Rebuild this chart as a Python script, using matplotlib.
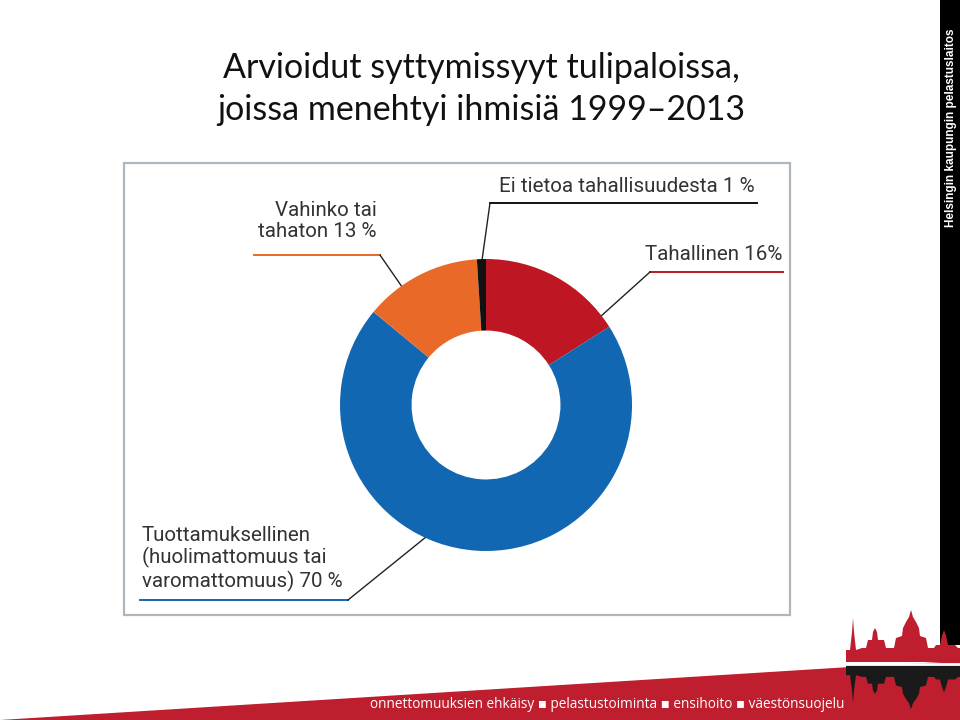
import numpy as np
import matplotlib
matplotlib.use("Agg")
import matplotlib.pyplot as plt
from matplotlib.patches import Rectangle, Polygon

# chart data (share of fires with deaths, %)
categories = ["Tahallinen", "Tuottamuksellinen", "Vahinko tai tahaton", "Ei tietoa tahallisuudesta"]
shares = [16, 70, 13, 1]
colors = ["#BE1622", "#1167B1", "#E96A28", "#111111"]
labels = ["Tahallinen 16%",
          "Tuottamuksellinen\n(huolimattomuus tai\nvaromattomuus) 70 %",
          "Vahinko tai\ntahaton 13 %",
          "Ei tietoa tahallisuudesta 1 %"]

title = "Arvioidut syttymissyyt tulipaloissa,\njoissa menehtyi ihmisiä 1999\u20132013"
footer = "onnettomuuksien ehkäisy \u25aa pelastustoiminta \u25aa ensihoito \u25aa väestönsuojelu"
side_text = "Helsingin kaupungin pelastuslaitos"

W, H = 960, 720
fig = plt.figure(figsize=(W / 100, H / 100), dpi=100)
bg = fig.add_axes([0, 0, 1, 1])
bg.set_xlim(0, W)
bg.set_ylim(H, 0)
bg.axis("off")

label_font = ["Roboto", "DejaVu Sans"]

# title
bg.text(481, 89, title, ha="center", va="center", fontsize=24.5,
        family=["Lato", "DejaVu Sans"], color="#111111", linespacing=1.4)

# chart frame
bg.add_patch(Rectangle((124, 163), 666, 452, fill=False, ec="#AEB6BE", lw=1.6))

# donut
cx, cy, r = 486, 405, 146
pie_ax = fig.add_axes([(cx - r) / W, (H - cy - r) / H, 2 * r / W, 2 * r / H])
pie_ax.set_zorder(2)
pie_ax.patch.set_alpha(0)
wedges, _ = pie_ax.pie(shares, colors=colors, startangle=90, counterclock=False,
                       wedgeprops=dict(width=0.49, edgecolor="none"))
pie_ax.set_xlim(-1, 1)
pie_ax.set_ylim(-1, 1)
pie_ax.set_aspect("equal")


def edge_point(wedge, frac, rad=0.97):
    a = np.radians(wedge.theta1 + frac * (wedge.theta2 - wedge.theta1))
    return cx + r * rad * np.cos(a), cy - r * rad * np.sin(a)


# label text position, underline span, elbow point, position along wedge
ann = [
    dict(xy=(645, 255), ha="left", line=(650, 783, 272), elbow=(650, 272), frac=0.09),
    dict(xy=(142, 559), ha="left", line=(140, 348, 600), elbow=(348, 600), frac=0.42),
    dict(xy=(377, 221), ha="right", line=(254, 380, 255), elbow=(380, 255), frac=0.68),
    dict(xy=(499, 187), ha="left", line=(490, 757, 203), elbow=(490, 203), frac=0.5),
]
for w, lab, col, a in zip(wedges, labels, colors, ann):
    bg.text(a["xy"][0], a["xy"][1], lab, ha=a["ha"], va="center", fontsize=14.8,
            family=label_font, color="#333333", linespacing=1.15)
    x0, x1, yl = a["line"]
    bg.plot([x0, x1], [yl, yl], color=col, lw=1.4)
    px, py = edge_point(w, a["frac"])
    bg.plot([a["elbow"][0], px], [a["elbow"][1], py], color="#222222", lw=1.0)

# right side black bar
bg.add_patch(Rectangle((940, 0), 20, 645, color="#000000", lw=0))
bg.text(951, 128, side_text, rotation=90, ha="center", va="center", fontsize=8.5,
        fontweight="bold", family=["Liberation Sans", "DejaVu Sans"], color="white")

# bottom red band
bg.add_patch(Polygon([(0, 720), (850, 667), (960, 661), (960, 720)], closed=True,
                     color="#BE1E2D", lw=0))

# skyline
sky = [(846, 662), (846, 650), (850, 650), (852, 632), (853, 618), (854, 632), (856, 650),
       (862, 648), (866, 648), (868, 640), (872, 640), (873, 632), (875, 628), (877, 632),
       (878, 640), (884, 640), (886, 648), (894, 648), (896, 638), (902, 636), (903, 628),
       (906, 622), (909, 617), (911, 610), (913, 617), (916, 622), (919, 628), (920, 636),
       (926, 638), (928, 648), (934, 648), (936, 645), (940, 645), (942, 636), (944, 630),
       (946, 636), (948, 645), (955, 645), (958, 648), (960, 648), (960, 662)]
bg.add_patch(Polygon(sky, closed=True, color="#BE1E2D", lw=0))
mirror = [(x, 665 + (662 - y) * 0.85) for x, y in sky]
bg.add_patch(Polygon(mirror, closed=True, color="#1A1A1A", lw=0))
bg.plot([846, 960], [663.5, 663.5], color="white", lw=2)

bg.text(607, 704, footer, ha="center", va="center", fontsize=9.8,
        family=["Open Sans", "DejaVu Sans"], color="white")

fig.savefig("out.png", dpi=100)
